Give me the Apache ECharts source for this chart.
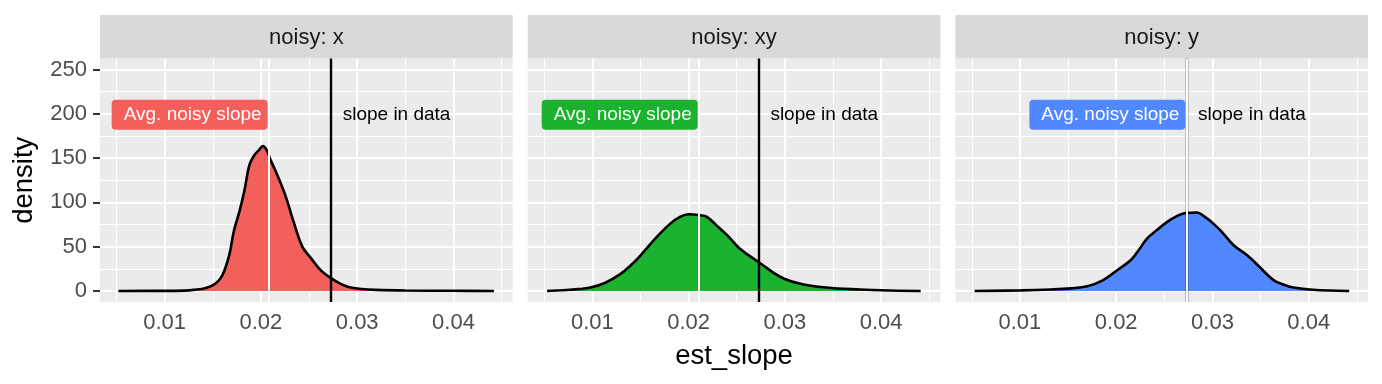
<!DOCTYPE html>
<html><head><meta charset="utf-8">
<script src="https://cdn.jsdelivr.net/npm/echarts@6/dist/echarts.min.js"></script>
<style>html,body{margin:0;padding:0;background:#fff}#c{width:1382px;height:384px}</style>
</head><body><div id="c"></div>
<script>
// ---- data ----
const facetLabels = ['noisy: x', 'noisy: xy', 'noisy: y'];
const densityNoisyX = [[0.0052,0],[0.010,0.05],[0.012,0.4],[0.013,1.2],[0.0143,3.4],[0.0153,8.4],[0.0160,17.7],[0.0167,40],[0.0172,68],[0.0178,91],[0.0183,114],[0.0188,142],[0.0193,153],[0.0198,159],[0.0202,163.5],[0.0206,159],[0.0210,148],[0.0217,131],[0.0226,106],[0.0234,78],[0.0243,50],[0.0252,37],[0.0262,23.5],[0.0272,15],[0.0281,9],[0.0291,4.5],[0.0305,2.2],[0.032,1.2],[0.035,0.5],[0.040,0.15],[0.0442,0]];
const densityNoisyXY = [[0.0053,0],[0.0067,0.8],[0.0085,2],[0.0098,3.8],[0.0113,9],[0.0129,19],[0.0140,29],[0.0150,40],[0.0167,61],[0.0181,76],[0.0191,83.6],[0.0200,86.6],[0.0212,85.5],[0.0219,83.6],[0.0229,74],[0.0240,63],[0.0253,48],[0.0274,31.6],[0.0295,16],[0.0315,8.4],[0.0343,3.8],[0.0378,1.6],[0.041,0.5],[0.0441,0]];
const densityNoisyY = [[0.0053,0],[0.0101,0.6],[0.0132,1.6],[0.0153,2.9],[0.0170,5.3],[0.0186,12],[0.0201,23.4],[0.0215,34.7],[0.0222,44],[0.0232,59],[0.0242,68.5],[0.0253,78],[0.0263,84.4],[0.0272,88.1],[0.0284,88.5],[0.0291,84.4],[0.0301,76],[0.0311,65],[0.0322,51.6],[0.0336,40.3],[0.0349,27],[0.0363,12.5],[0.0374,7],[0.0384,3.8],[0.0404,1.4],[0.0442,0]];
const avgNoisySlope = [0.02086, 0.0211, 0.02734];
const slopeInData = 0.0273;
const labelY = 200;
const xTicks = [0.01, 0.02, 0.03, 0.04];
const xMinor = [0.005, 0.015, 0.025, 0.035, 0.045];
const yTicks = [0, 50, 100, 150, 200, 250];
const yMinor = [25, 75, 125, 175, 225];
const fillColors = ['#F3605B', '#1BB22F', '#5187FF'];

// ---- layout ----
const densities = [densityNoisyX, densityNoisyXY, densityNoisyY];
const lefts = [100, 527.7, 955.3];
const W = 412.7, TOP = 58.5, H = 243.5;
const FONT = 'Liberation Sans, Arial, sans-serif';

function mk(z, data) {
  return {silent: true, symbol: ['none', 'none'], label: {show: false}, animation: false, precision: 8, z: z, data: data};
}

const grid = [], xAxis = [], yAxis = [], series = [], graphic = [];
lefts.forEach((l, i) => {
  grid.push({left: l, top: TOP, width: W, height: H, show: true, backgroundColor: '#EBEBEB', borderWidth: 0, containLabel: false});
  xAxis.push({
    type: 'value', gridIndex: i, min: 0.00329, max: 0.04615,
    axisLine: {show: false}, splitLine: {show: false},
    axisTick: {show: true, length: 7, lineStyle: {color: '#333333', width: 2}, customValues: xTicks},
    axisLabel: {customValues: xTicks, formatter: v => String(+(+v).toFixed(3)), fontSize: 22, color: '#4D4D4D', margin: 10, fontFamily: FONT},
    name: i === 1 ? 'est_slope' : '', nameLocation: 'middle', nameGap: 40,
    nameTextStyle: {fontSize: 27.5, color: '#000', fontFamily: FONT}
  });
  yAxis.push({
    type: 'value', gridIndex: i, min: -12.5, max: 262.5,
    axisLine: {show: false}, splitLine: {show: false},
    axisTick: i === 0 ? {show: true, length: 7, lineStyle: {color: '#333333', width: 2}, customValues: yTicks} : {show: false},
    axisLabel: i === 0 ? {customValues: yTicks, fontSize: 22, color: '#4D4D4D', margin: 13, fontFamily: FONT} : {show: false},
    name: i === 0 ? 'density' : '', nameLocation: 'middle', nameGap: 62,
    nameTextStyle: {fontSize: 27.5, color: '#000', fontFamily: FONT}
  });
  // grid lines
  const gl = [];
  xMinor.forEach(v => gl.push({xAxis: v, lineStyle: {color: '#fff', width: 1, type: 'solid'}}));
  yMinor.forEach(v => gl.push({yAxis: v, lineStyle: {color: '#fff', width: 1, type: 'solid'}}));
  xTicks.forEach(v => gl.push({xAxis: v, lineStyle: {color: '#fff', width: 2, type: 'solid'}}));
  yTicks.forEach(v => gl.push({yAxis: v, lineStyle: {color: '#fff', width: 2, type: 'solid'}}));
  series.push({type: 'line', xAxisIndex: i, yAxisIndex: i, data: [], z: 1, silent: true, markLine: mk(1, gl)});
  // density
  series.push({type: 'line', xAxisIndex: i, yAxisIndex: i, data: densities[i], z: 2, silent: true,
    smooth: 0.4, showSymbol: false, symbol: 'none',
    lineStyle: {color: '#000', width: 2.6}, areaStyle: {color: fillColors[i], opacity: 1}});
  // slope in data line (black) and avg noisy slope (white)
  series.push({type: 'line', xAxisIndex: i, yAxisIndex: i, data: [], z: 3, silent: true,
    markLine: mk(3, [{xAxis: slopeInData, lineStyle: {color: '#000', width: 2.4, type: 'solid'}}])});
  series.push({type: 'line', xAxisIndex: i, yAxisIndex: i, data: [], z: 4, silent: true,
    markLine: mk(4, [{xAxis: avgNoisySlope[i], lineStyle: {color: '#fff', width: 2, type: 'solid'}}])});
  // labels
  series.push({type: 'scatter', xAxisIndex: i, yAxisIndex: i, z: 6, silent: true,
    data: [[avgNoisySlope[i], labelY]], symbolSize: 1, itemStyle: {color: 'rgba(0,0,0,0)', opacity: 1},
    label: {show: true, position: 'left', distance: 1, offset: [0, 1], formatter: 'Avg. noisy slope', opacity: 1,
      color: '#fff', fontSize: 19, fontFamily: FONT, lineHeight: 20,
      backgroundColor: fillColors[i], borderRadius: 4, padding: [5, 6, 5, 12]}});
  series.push({type: 'scatter', xAxisIndex: i, yAxisIndex: i, z: 6, silent: true,
    data: [[slopeInData, labelY]], symbolSize: 1, itemStyle: {color: 'rgba(0,0,0,0)', opacity: 1},
    label: {show: true, position: 'right', distance: 11, offset: [0, 1], formatter: 'slope in data', opacity: 1,
      color: '#000', fontSize: 19, fontFamily: FONT}});
  // strip
  graphic.push({type: 'rect', left: l, top: 15, shape: {width: W, height: 43.5}, style: {fill: '#D9D9D9'}, z: 0});
  graphic.push({type: 'text', x: l + W / 2, y: 38, style: {text: facetLabels[i], fill: '#1A1A1A', fontSize: 22, fontFamily: FONT, align: 'center', verticalAlign: 'middle'}, z: 1});
});

const chart = echarts.init(document.getElementById('c'), null, {renderer: 'canvas'});
chart.setOption({animation: false, grid, xAxis, yAxis, series, graphic});
</script>
</body></html>
